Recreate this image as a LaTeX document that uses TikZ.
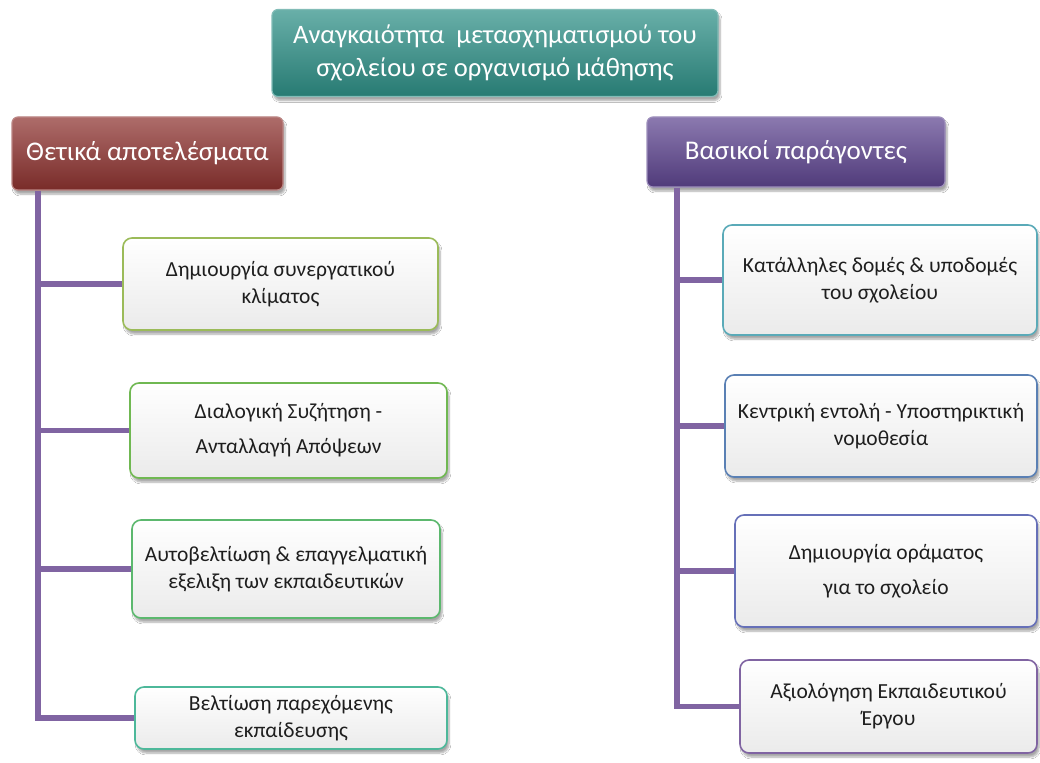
\documentclass[tikz,border=0pt]{standalone}
\usepackage{fontspec}
\setmainfont{Carlito}
\usetikzlibrary{shadows,shadows.blur}
\definecolor{redBot}{HTML}{8E3330}
\definecolor{purBot}{HTML}{5E4590}
\definecolor{tealBot}{HTML}{2E9087}
\definecolor{spine}{HTML}{8064A2}
\definecolor{bLime}{HTML}{9BBB59}
\definecolor{bGreen}{HTML}{70B852}
\definecolor{bGreen2}{HTML}{5CB86E}
\definecolor{bTeal}{HTML}{4DB89A}
\definecolor{bCyan}{HTML}{5AAAB8}
\definecolor{bSteel}{HTML}{5A80B4}
\definecolor{bSlate}{HTML}{6670B8}
\definecolor{bPurple}{HTML}{8064A2}
\definecolor{txt}{HTML}{1E1E1E}
\begin{document}
\begin{tikzpicture}[x=1pt,y=-1pt,
  header/.style={rounded corners=6pt, draw=white!40!#1, line width=1.2pt,
    top color=white!28!#1, bottom color=#1!85!black, text=white,
    font=\fontsize{27}{32}\selectfont, align=center, inner sep=0pt,
    blur shadow={shadow xshift=2pt, shadow yshift=-4pt, shadow blur steps=6, shadow opacity=35}},
  item/.style={rounded corners=9pt, draw=#1, line width=1.6pt,
    top color=white, bottom color=black!8, text=txt,
    font=\fontsize{21.5}{27}\selectfont, align=center, inner sep=0pt,
    blur shadow={shadow xshift=2pt, shadow yshift=-4pt, shadow blur steps=6, shadow opacity=35}},
  conn/.style={draw=spine, line width=5.5pt}]
\useasboundingbox[fill=white] (0,0) rectangle (1040,762);

% title and the two column headers (labels set a little below centre)
\node[header=tealBot, minimum width=446pt, minimum height=87pt,
      font=\fontsize{26.6}{33}\selectfont] (title) at (495,53)
  {\raisebox{-3pt}{\begin{tabular}{@{}c@{}}Αναγκαιότητα\ \ μετασχηματισμού του\\[0pt]σχολείου σε οργανισμό μάθησης\end{tabular}}};
\node[header=redBot, minimum width=271pt, minimum height=73pt] (hdrL) at (147.5,153.5)
  {\raisebox{-3pt}{Θετικά αποτελέσματα}};
\node[header=purBot, minimum width=298pt, minimum height=70pt] (hdrR) at (796,152)
  {\raisebox{-3pt}{Βασικοί παράγοντες}};

% left column
\node[item=bLime,  minimum width=315pt, minimum height=92pt] (l1) at (280.5,284)
  {Δημιουργία συνεργατικού\\κλίματος};
\node[item=bGreen, minimum width=317pt, minimum height=95pt] (l2) at (288.5,430.5)
  {Διαλογική Συζήτηση -\\[8pt]Ανταλλαγή Απόψεων};
\node[item=bGreen2, minimum width=308pt, minimum height=98pt] (l3) at (286,569)
  {Αυτοβελτίωση \& επαγγελματική\\εξελιξη των εκπαιδευτικών};
\node[item=bTeal, minimum width=312pt, minimum height=62pt] (l4) at (291,718)
  {Βελτίωση παρεχόμενης\\εκπαίδευσης};

% right column
\node[item=bCyan,  minimum width=314pt, minimum height=110pt] (r1) at (880,280)
  {Κατάλληλες δομές \& υποδομές\\του σχολείου};
\node[item=bSteel, minimum width=312pt, minimum height=102pt] (r2) at (881,426)
  {Κεντρική εντολή - Υποστηρικτική\\νομοθεσία};
\node[item=bSlate, minimum width=302pt, minimum height=112pt] (r3) at (886,571)
  {Δημιουργία οράματος\\[8pt]για το σχολείο};
\node[item=bPurple, minimum width=297pt, minimum height=93pt] (r4) at (888.5,706.5)
  {Αξιολόγηση Εκπαιδευτικού\\Έργου};

% spines running down from each header, with a branch into every box
\coordinate (sL) at (38,0);
\coordinate (sR) at (677,0);
\draw[conn] (sL |- hdrL.south) -- (sL |- l4.west) -- (l4.west);
\draw[conn] (sL |- l1.west) -- (l1.west);
\draw[conn] (sL |- l2.west) -- (l2.west);
\draw[conn] (sL |- l3.west) -- (l3.west);
\draw[conn] (sR |- hdrR.south) -- (sR |- r4.west) -- (r4.west);
\draw[conn] (sR |- r1.west) -- (r1.west);
\draw[conn] (sR |- r2.west) -- (r2.west);
\draw[conn] (sR |- r3.west) -- (r3.west);
\end{tikzpicture}
\end{document}
